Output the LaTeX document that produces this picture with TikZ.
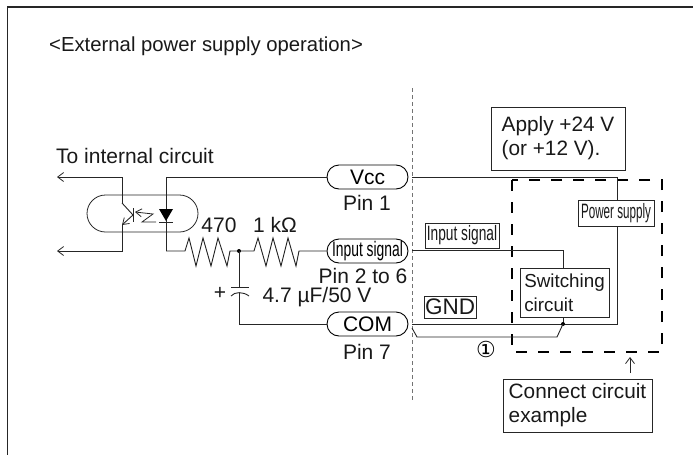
\documentclass[tikz,border=0pt]{standalone}
\usepackage{fontspec}
\usepackage{graphicx}
\setmainfont{Liberation Sans}
\newfontfamily\symfont{DejaVu Sans}
\usetikzlibrary{shapes.misc,arrows.meta,positioning}
\tikzset{
  wire/.style={line width=0.9pt,black!85,line join=miter},
  frameline/.style={line width=1.3pt,black!85},
  opentip/.style={-{Straight Barb[length=6pt,width=9pt,line width=0.8pt]}},
  pill/.style={rounded rectangle,draw=black,line width=0.9pt,fill=white,inner sep=0pt,minimum width=81pt,minimum height=24pt,font=\fontsize{21}{24}\selectfont},
  lbl/.style={inner sep=0pt,font=\fontsize{21}{24}\selectfont,text=black!90},
  boxed/.style={draw=black!85,line width=0.9pt,fill=white,inner sep=0pt,font=\fontsize{20.8}{24}\selectfont,text=black!90},
  dashbox/.style={line width=1.7pt,black,dash pattern=on 11pt off 11pt},
  sep/.style={line width=1pt,black!55,dash pattern=on 4pt off 3pt},
}
\newcommand{\narrowtext}[1]{\scalebox{0.66}[1]{#1}}
\newcommand{\narrowertext}[1]{\scalebox{0.56}[1]{#1}}
\begin{document}
\begin{tikzpicture}[x=1pt,y=-1pt]
\useasboundingbox (0,0) rectangle (693,455);
% outer frame
\coordinate (fTL) at (7.5,7);
\coordinate (fTR) at (693,7);
\coordinate (fBL) at (7.5,455);
\draw[frameline] (fTR) -- (fTL) -- (fBL);
\node[lbl,anchor=west,font=\fontsize{20.3}{24}\selectfont] (title) at (49,46) {<External power supply operation>};
% separator
\coordinate (sepT) at (412,88);
\coordinate (sepB) at (412,402);
\draw[sep] (sepT) -- (sepB);
% opto coupler
\node[rounded rectangle,draw=black!85,line width=0.8pt,minimum width=111pt,minimum height=37pt,inner sep=0pt] (opto) at (142.5,213.5) {};
\node[lbl,anchor=west] (toint) at (56,156) {To internal circuit};
% pills
\node[pill] (vcc) at (367.5,177) {Vcc};
\node[pill] (inp) at (367.5,251) {\narrowtext{Input signal}};
\node[pill] (com) at (367.5,324) {COM};
\node[lbl] (pin1) at (367,203) {Pin 1};
\node[lbl] (pin26) at (363,276) {Pin 2 to 6};
\node[lbl] (pin7) at (367,352) {Pin 7};
\node[lbl] (r1t) at (219,225) {470};
\node[lbl] (r2t) at (275,225) {1 kΩ};
\node[lbl] (captxt) at (317,297) {4.7 µF/50 V};
\node[lbl] (plus) at (220,293) {+};
% coordinates for optocoupler
\coordinate (ledT) at (166,177);
\coordinate (ledB) at (166,251);
\coordinate (ctop) at (122,177);
\coordinate (cknee) at (122,203);
\coordinate (tbase) at (133,215);
\coordinate (eknee) at (122,225);
\coordinate (ebot) at (122,251);
\coordinate (outT) at (57,177);
\coordinate (outB) at (57,251);
\draw[wire,opentip] (cknee) -- (ctop) -- (outT);
\draw[wire] (cknee) -- (tbase);
\draw[wire,-{Straight Barb[length=6pt,width=8pt,line width=0.8pt]}] (tbase) -- (eknee);
\draw[wire,opentip] (eknee) -- (ebot) -- (outB);
\draw[wire] (133,208) -- (133,222);
% light arrow
\draw[line width=0.8pt,black!85,-{Straight Barb[length=6pt,width=8pt,line width=0.8pt]}] (156,222) -- (142,222) -- (153,214) -- (135,212);
% led
\draw[wire] (ledT) -- (ledB);
\fill[black] (159,209) -- (173,209) -- (166,221) -- cycle;
\draw[wire] (159,222) -- (173,222);
% wires left
\draw[wire] (ledT) -- (vcc.west);
\coordinate (j) at (239,251);
\draw[wire] (ledB) -- (185,251) -- (189,238) -- (196,266) -- (203,238) -- (211,266) -- (218,238) -- (227,266) -- (230,251) -- (j)
  -- (254,251) -- (258,238) -- (266,266) -- (273,238) -- (281,266) -- (288,238) -- (296,266) -- (299,251) -- (inp.west);
\fill[black] (j) circle (2pt);
\coordinate (capT) at (239,287);
\coordinate (capB) at (239,293);
\coordinate (comL) at (239,324);
\draw[wire] (j) -- (capT);
\draw[wire] (231,287) -- (249,287);
\draw[wire] (231,296) .. controls (235,291.5) and (243,291.5) .. (249,296);
\draw[wire] (capB) -- (comL) -- (com.west);
% right-hand boxes
\node[boxed,minimum width=134pt,minimum height=63pt,align=left] (apply) at (558,138.5) {Apply +24 V\\(or +12 V).};
\node[boxed,minimum width=74pt,minimum height=25pt] (isbox) at (462,235.5) {\narrowtext{Input signal}};
\node[boxed,minimum width=52pt,minimum height=22pt,font=\fontsize{22.5}{24}\selectfont] (gnd) at (450,307) {GND};
\draw[dashbox] (512,180) rectangle (662,352);
\coordinate (vR) at (412,177);
\coordinate (vC) at (617,177);
\coordinate (gL) at (412,324);
\coordinate (gC) at (617,324);
\draw[wire] (vR) -- (vC) -- (gC) -- (gL);
\node[boxed,minimum width=76pt,minimum height=26pt] (ps) at (616,213) {\narrowertext{Power supply}};
\node[boxed,minimum width=89pt,minimum height=49pt,align=left,font=\fontsize{18.8}{24}\selectfont] (sw) at (564.5,292.5) {Switching\\circuit};
\coordinate (iR) at (412,250.5);
\coordinate (iC) at (563,250.5);
\draw[wire] (iR) -- (iC) -- (iC |- sw.north);
\coordinate (dot) at (563,324);
\draw[wire] (dot |- sw.south) -- (dot);
\fill[black] (dot) circle (2pt);
\coordinate (b1) at (412,328);
\coordinate (b2) at (417,337);
\coordinate (b3) at (557,337);
\draw[wire] (b1) -- (b2) -- (b3) -- (dot);
\node[inner sep=0pt,font=\symfont\fontsize{22}{24}\selectfont] (one) at (486,349) {①};
\node[boxed,minimum width=149pt,minimum height=53pt,align=left] (conn) at (577.5,405.5) {Connect circuit\\example};
\coordinate (aT) at (630,357);
\draw[line width=0.8pt,black!85,-{Straight Barb[length=6pt,width=9pt,line width=0.8pt]}] (630,373) -- (aT);
\end{tikzpicture}
\end{document}
